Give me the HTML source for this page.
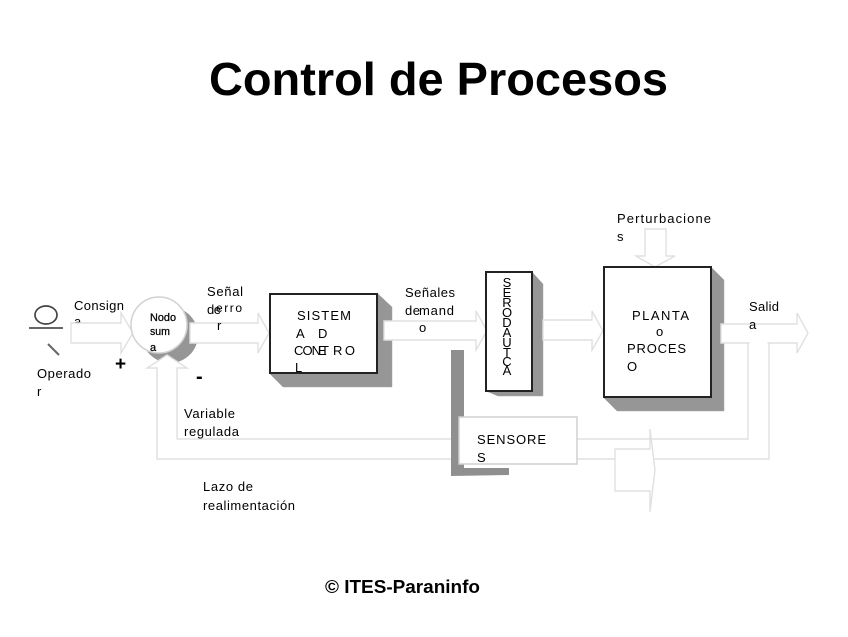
<!DOCTYPE html>
<html lang="es">
<head>
<meta charset="utf-8">
<title>Control de Procesos</title>
<style>
html,body{margin:0;padding:0;background:#fff;width:848px;height:637px;overflow:hidden}
svg{display:block}
text{font-family:"Liberation Sans",sans-serif;fill:#000;font-size:13px}
.o{fill:#fff;stroke:#e0e0e0;stroke-width:1.4}
.l{fill:none;stroke:#e0e0e0;stroke-width:1.4}
.b{fill:#fff;stroke:#222;stroke-width:2}
.s{fill:#969696;stroke:#a8a8a8;stroke-width:.5}
</style>
</head>
<body>
<svg width="848" height="637" viewBox="0 0 848 637" xmlns="http://www.w3.org/2000/svg">
<defs><filter id="soft" x="0" y="0" width="100%" height="100%"><feGaussianBlur stdDeviation="0.35"/></filter></defs>
<g filter="url(#soft)">
<rect width="848" height="637" fill="#fff"/>

<text x="209" y="95" font-weight="bold" style="font-size:46px" textLength="459" lengthAdjust="spacingAndGlyphs">Control de Procesos</text>

<!-- operator -->
<ellipse cx="46" cy="315" rx="11" ry="9" fill="#fff" stroke="#444" stroke-width="1.7"/>
<path d="M29 328H63" stroke="#666" stroke-width="2"/>
<path d="M48 344L59 355" stroke="#666" stroke-width="2"/>

<!-- text beneath arrows -->
<text x="74" y="326">a</text>

<!-- feedback lines -->
<path class="l" d="M177 368V439H452"/>
<path class="l" d="M157 368V459H452"/>
<path class="l" d="M577 439H748V343"/>
<path class="l" d="M577 459H769V343"/>

<!-- shadow of summing node -->
<circle cx="170" cy="335" r="28" fill="#969696"/>

<!-- block shadows -->
<polygon class="s" points="377,293 392,307 392,387 283,387 269,373"/>
<polygon class="s" points="532,272 543,284 543,396 498,396 486,391"/>
<polygon class="s" points="711,267 724,280 724,411 617,411 603,397"/>

<!-- arrows -->
<path class="o" d="M71 323H121V313L133 333L121 353V343H71Z"/>
<path class="o" d="M190 323H258V313L269 333L258 353V343H190Z"/>
<path class="o" d="M384 321H476V311L487 331L476 350V340H384Z"/>
<path class="o" d="M543 320H592V311L603 331L592 350V340H543Z"/>
<path class="o" d="M645 229H666V256H675L655 267L636 256H645Z"/>
<path class="o" d="M721 324H797V313L808 333L797 353V343H721Z"/>
<path d="M749.5 342H767.5V346H749.5Z" fill="#fff"/>
<path class="o" d="M157 459V368H147L167 355L187 368H177V439"/>
<rect x="158" y="437" width="18" height="21" fill="#fff"/>
<path class="o" d="M615 449H650V429L655 470L650 512V491H615Z"/>

<!-- summing node -->
<circle cx="159" cy="325" r="28" fill="#fff" stroke="#d2d2d2" stroke-width="1.5"/>

<!-- blocks -->
<rect class="b" x="270" y="294" width="107" height="79"/>
<rect class="b" x="486" y="272" width="46" height="119"/>
<rect class="b" x="604" y="267" width="107" height="130"/>

<!-- gray L -->
<polygon points="451,350 464,350 464,468 509,468 509,475 451,476" fill="#8f8f8f"/>

<!-- sensores -->
<rect x="459" y="417" width="118" height="47" fill="#fff" stroke="#d0d0d0" stroke-width="1.5"/>

<!-- labels -->
<text x="74" y="310" textLength="50">Consign</text>
<text x="37" y="378" textLength="54">Operado</text>
<text x="37" y="396">r</text>
<text x="207" y="296" textLength="36">Señal</text>
<text x="207" y="314" textLength="14">de</text>
<text x="216" y="312" textLength="26" style="font-size:12px">erro</text>
<text x="217" y="330">r</text>
<text x="150" y="321" textLength="26" lengthAdjust="spacingAndGlyphs" style="font-size:11px;stroke:#000;stroke-width:.25">Nodo</text>
<text x="150" y="335" textLength="20" lengthAdjust="spacingAndGlyphs" style="font-size:11px;stroke:#000;stroke-width:.25">sum</text>
<text x="150" y="351" style="font-size:11px;stroke:#000;stroke-width:.25">a</text>
<text x="115" y="370" font-weight="bold" style="font-size:19px">+</text>
<text x="196" y="383" font-weight="bold" style="font-size:20px">-</text>
<text x="184" y="418" textLength="51">Variable</text>
<text x="184" y="436" textLength="55">regulada</text>
<text x="203" y="491" textLength="50">Lazo de</text>
<text x="203" y="510" textLength="92">realimentación</text>

<text x="297" y="320" textLength="54">SISTEM</text>
<text x="296" y="338">A</text>
<text x="318" y="338">D</text>
<text x="294" y="355" textLength="27">CON</text>
<text x="318" y="355">E</text>
<text x="321" y="355">T</text>
<text x="333" y="355" textLength="22">RO</text>
<text x="295" y="372">L</text>

<text x="405" y="297" textLength="50">Señales</text>
<text x="405" y="315" textLength="15">de</text>
<text x="419" y="315" textLength="35">mand</text>
<text x="419" y="332">o</text>

<g text-anchor="middle">
<text x="507" y="287">S</text>
<text x="507" y="297">E</text>
<text x="507" y="307">R</text>
<text x="507" y="317">O</text>
<text x="507" y="327">D</text>
<text x="507" y="337">A</text>
<text x="507" y="347">U</text>
<text x="507" y="357">T</text>
<text x="507" y="366">C</text>
<text x="507" y="375">A</text>
</g>

<text x="477" y="444" textLength="69">SENSORE</text>
<text x="477" y="462">S</text>

<text x="617" y="223" textLength="94">Perturbacione</text>
<text x="617" y="241">s</text>
<text x="632" y="320" textLength="57">PLANTA</text>
<text x="656" y="336">o</text>
<text x="627" y="353" textLength="59">PROCES</text>
<text x="627" y="371">O</text>
<text x="749" y="311" textLength="30">Salid</text>
<text x="749" y="329">a</text>

<text x="325" y="593" font-weight="bold" style="font-size:18px" textLength="155" lengthAdjust="spacingAndGlyphs">© ITES-Paraninfo</text>
</g>
</svg>
</body>
</html>
